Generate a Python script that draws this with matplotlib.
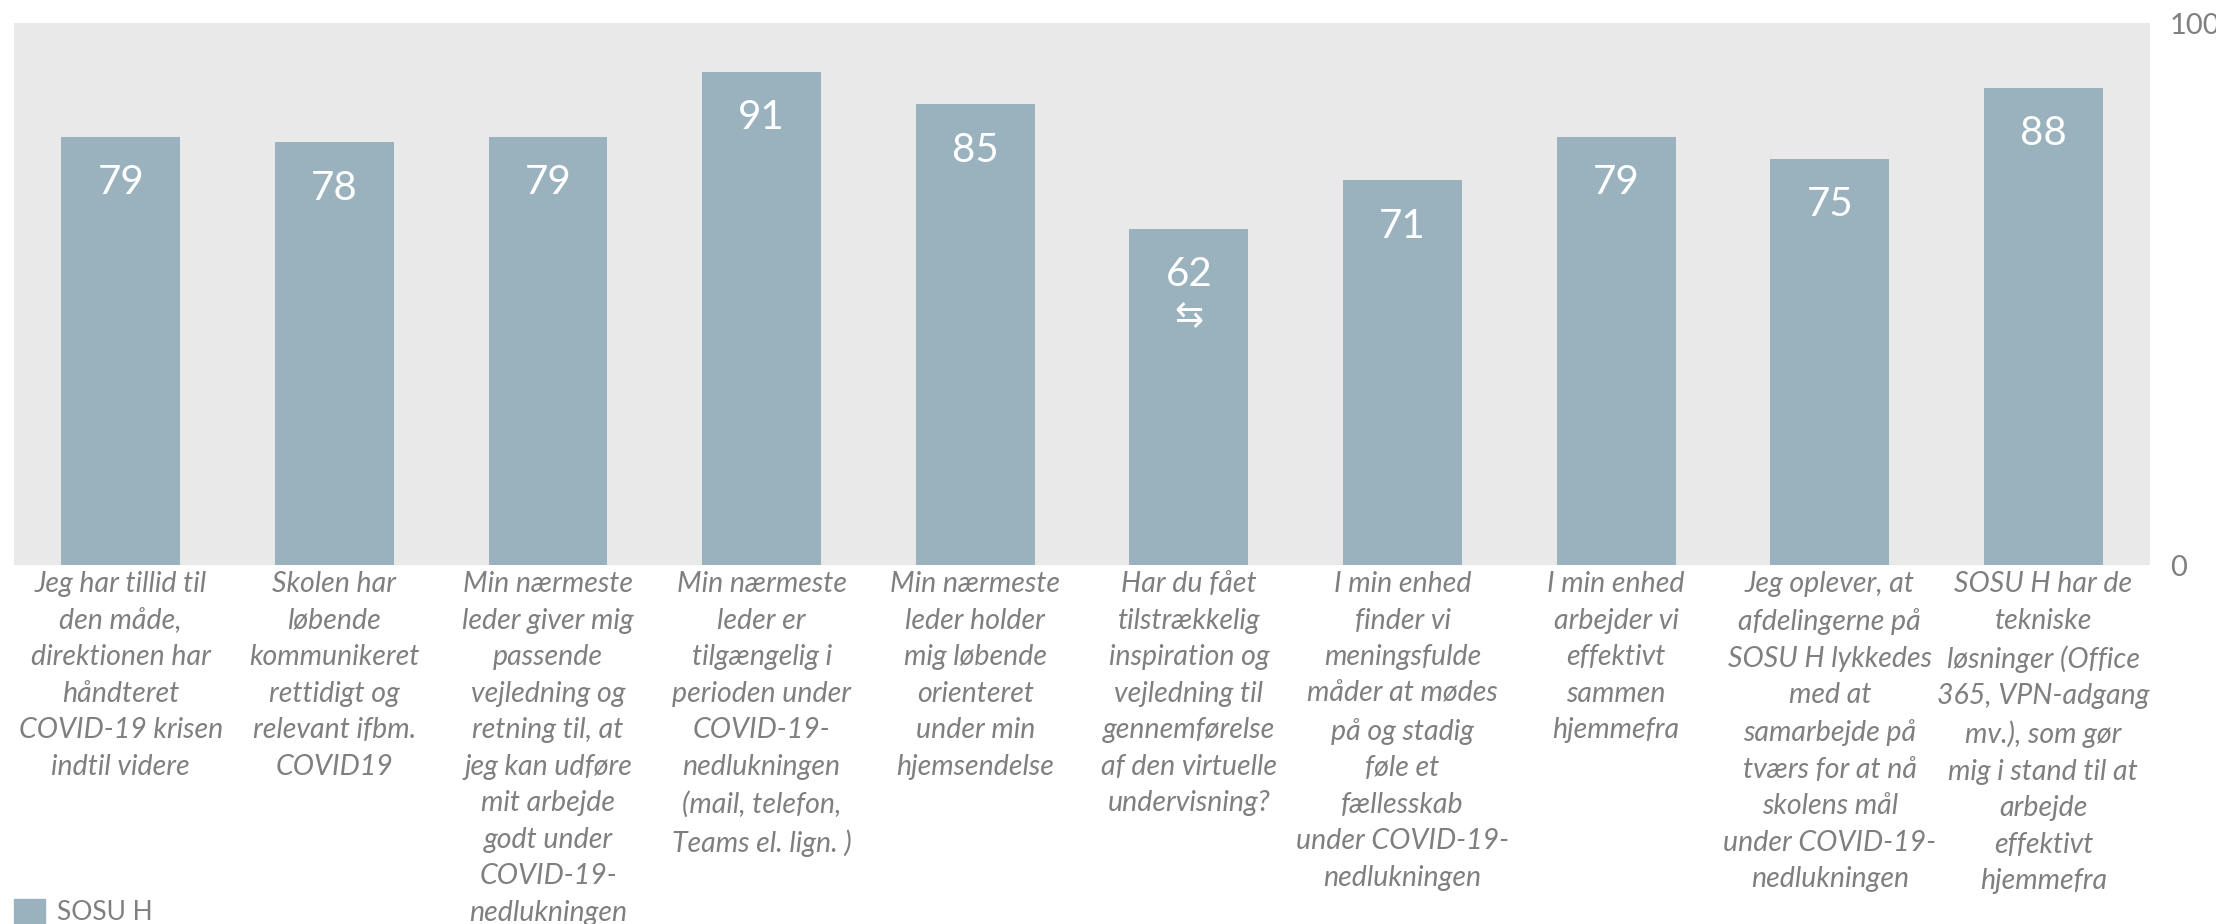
import matplotlib
matplotlib.use("Agg")
import matplotlib.pyplot as plt
from matplotlib.patches import Rectangle

# survey statements (x categories), as wrapped in the source chart
categories = [
    "Jeg har tillid til\nden måde,\ndirektionen har\nhåndteret\nCOVID-19 krisen\nindtil videre",
    "Skolen har\nløbende\nkommunikeret\nrettidigt og\nrelevant ifbm.\nCOVID19",
    "Min nærmeste\nleder giver mig\npassende\nvejledning og\nretning til, at\njeg kan udføre\nmit arbejde\ngodt under\nCOVID-19-\nnedlukningen",
    "Min nærmeste\nleder er\ntilgængelig i\nperioden under\nCOVID-19-\nnedlukningen\n(mail, telefon,\nTeams el. lign. )",
    "Min nærmeste\nleder holder\nmig løbende\norienteret\nunder min\nhjemsendelse",
    "Har du fået\ntilstrækkelig\ninspiration og\nvejledning til\ngennemførelse\naf den virtuelle\nundervisning?",
    "I min enhed\nfinder vi\nmeningsfulde\nmåder at mødes\npå og stadig\nføle et\nfællesskab\nunder COVID-19-\nnedlukningen",
    "I min enhed\narbejder vi\neffektivt\nsammen\nhjemmefra",
    "Jeg oplever, at\nafdelingerne på\nSOSU H lykkedes\nmed at\nsamarbejde på\ntværs for at nå\nskolens mål\nunder COVID-19-\nnedlukningen",
    "SOSU H har de\ntekniske\nløsninger (Office\n365, VPN-adgang\nmv.), som gør\nmig i stand til at\narbejde\neffektivt\nhjemmefra",
]
sosu_h = [79, 78, 79, 91, 85, 62, 71, 79, 75, 88]
# markers shown under the value (only the 6th bar has the swap arrow)
markers = ["", "", "", "", "", "⇆", "", "", "", ""]
series_name = "SOSU H"
y_ticks = [0, 100]

BAR = "#9ab2bd"
BG = "#e9e9e9"
GREY = "#7f7f7f"

plt.rcParams['font.family'] = ['Lato', 'DejaVu Sans']

fig = plt.figure(figsize=(22.16, 9.24), dpi=100)
ax = fig.add_axes([0.0063, 0.3885, 0.9640, 0.5865])
ax.set_facecolor(BG)

x = range(len(categories))
bars = ax.bar(x, sosu_h, width=0.556, color=BAR, zorder=2)

for i, v in enumerate(sosu_h):
    ax.annotate(str(v), xy=(i, v), xytext=(0, -33), textcoords='offset points',
                ha='center', va='center', color='white', fontsize=29)
    if markers[i]:
        ax.annotate(markers[i], xy=(i, v), xytext=(0, -63), textcoords='offset points',
                    ha='center', va='center', color='white', fontsize=25,
                    family=['DejaVu Sans'])

ax.set_xlim(-0.5, len(categories) - 0.5)
ax.set_ylim(0, 100)
for s in ax.spines.values():
    s.set_visible(False)

ax.set_xticks(list(x))
ax.set_xticklabels(categories, fontsize=20.5, fontstyle='italic', color=GREY,
                   linespacing=1.5, va='top', ha='center')
ax.tick_params(axis='x', length=0, pad=4.5)

ax.yaxis.tick_right()
ax.set_yticks(y_ticks)
ax.set_yticklabels([str(t) for t in y_ticks], fontsize=21, color=GREY)
ax.tick_params(axis='y', length=0, pad=14)

# legend: swatch + series name at the bottom-left edge (swatch runs off the bottom)
fig.add_artist(Rectangle((14 / 2216, -0.005), 31 / 2216, 30 / 924,
                         transform=fig.transFigure, color=BAR))
fig.text(57 / 2216, 1 - 913 / 924, series_name, fontsize=19, color=GREY,
         ha='left', va='center')

fig.savefig("out.png", dpi=100)
